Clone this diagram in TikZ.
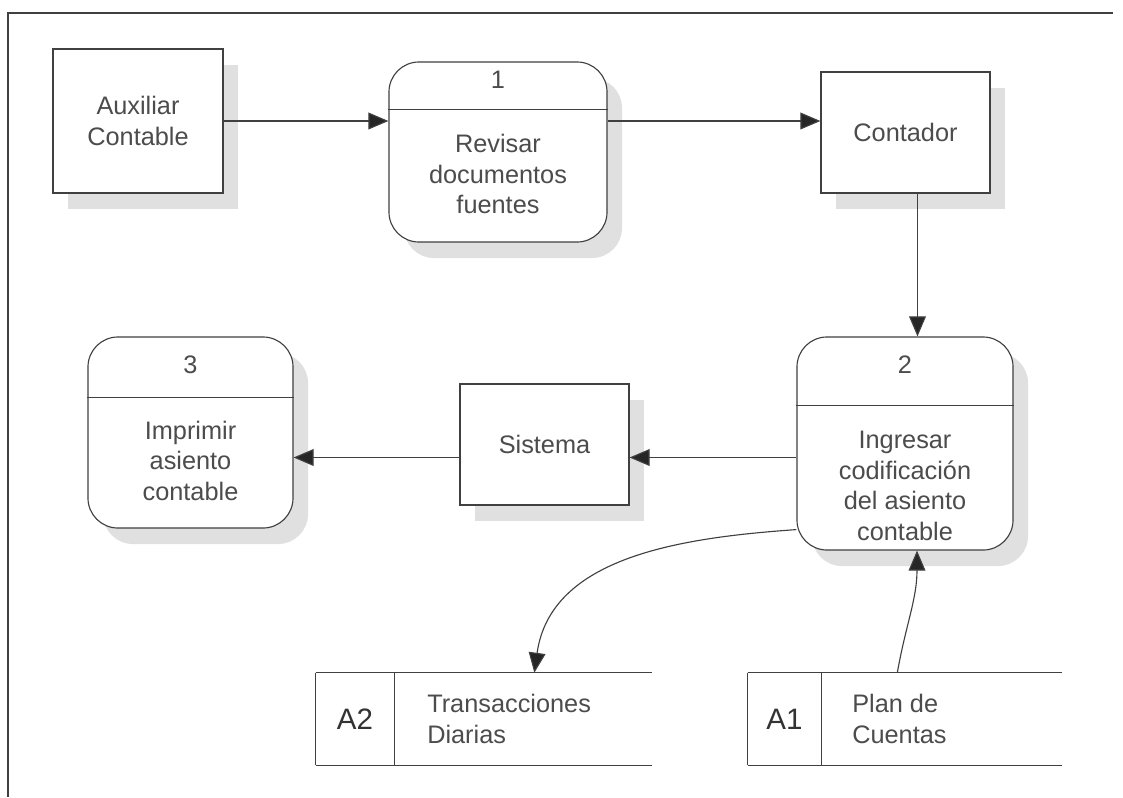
\documentclass[tikz,border=0pt]{standalone}
\usepackage{fontspec}
\setmainfont{Liberation Sans}
\usetikzlibrary{arrows.meta,shadows}

\begin{document}
\begin{tikzpicture}[x=0.025cm, y=-0.025cm,
  line/.style={draw=black!75, line width=0.8pt},
  flow/.style={line, -{Triangle[length=0.5cm, width=0.42cm, fill=black!85]}},
  shade/.style={drop shadow={shadow xshift=0.375cm, shadow yshift=-0.4cm, fill=black!12, opacity=1}},
  ent/.style={line, fill=white, shade, align=center, text=black!70,
    font=\fontsize{18}{22}\selectfont},
  proc/.style={ent, rounded corners=0.75cm},
  txt/.style={align=center, text=black!70, font=\fontsize{18}{22}\selectfont},
  storeid/.style={minimum width=1.95cm, minimum height=2.3cm, inner sep=0pt,
    text=black!80, font=\fontsize{21}{24}\selectfont}]
\useasboundingbox (0,0) rectangle (1123,797);

% frame
\draw[line] (1113,13) -- (8,13) -- (8,797);

% entities
\node[ent, minimum width=4.25cm, minimum height=3.6cm] (aux) at (138,121) {Auxiliar\\Contable};
\node[ent, minimum width=4.225cm, minimum height=3.025cm] (cont) at (905.5,132.5) {Contador};
\node[ent, minimum width=4.225cm, minimum height=3.025cm] (sis) at (544.5,444.5) {Sistema};

% processes
\node[proc, minimum width=5.45cm, minimum height=4.5cm] (p1) at (498,152) {};
\draw[line] ([yshift=-1.2cm]p1.north west) -- ([yshift=-1.2cm]p1.north east);
\node[txt] (p1n) at ([yshift=-0.45cm]p1.north) {1};
\node[txt] (p1t) at ([yshift=-0.55cm]p1.center) {Revisar\\documentos\\fuentes};

\node[proc, minimum width=5.4cm, minimum height=5.325cm] (p2) at (905,443.5) {};
\draw[line] ([yshift=-1.725cm]p2.north west) -- ([yshift=-1.725cm]p2.north east);
\node[txt] (p2n) at ([yshift=-0.7cm]p2.north) {2};
\node[txt] (p2t) at ([yshift=-1.06cm]p2.center) {Ingresar\\codificación\\del asiento\\contable};

\node[proc, minimum width=5.125cm, minimum height=4.775cm] (p3) at (190.5,432.5) {};
\draw[line] ([yshift=-1.525cm]p3.north west) -- ([yshift=-1.525cm]p3.north east);
\node[txt] (p3n) at ([yshift=-0.7cm]p3.north) {3};
\node[txt] (p3t) at ([yshift=-0.71cm]p3.center) {Imprimir\\asiento\\contable};

% data stores
\node[storeid] (a2) at (355,719) {A2};
\draw[line] (a2.north west) -- ++(336,0) (a2.south west) -- ++(336,0)
  (a2.north west) -- (a2.south west) (a2.north east) -- (a2.south east);
\node[txt, anchor=west, align=left] (a2t) at ([xshift=0.7cm]a2.east) {Transacciones\\Diarias};

\node[storeid, minimum width=1.825cm] (a1) at (784.5,719) {A1};
\draw[line] (a1.north west) -- ++(314,0) (a1.south west) -- ++(314,0)
  (a1.north west) -- (a1.south west) (a1.north east) -- (a1.south east);
\node[txt, anchor=west, align=left] (a1t) at ([xshift=0.65cm]a1.east) {Plan de\\Cuentas};

% flows
\coordinate (y2) at ([yshift=-0.35cm]p2.west);
\draw[flow] (aux.east) -- (aux.east -| p1.west);
\draw[flow] (p1.east |- aux.east) -- (cont.west |- aux.east);
\draw[flow] ([xshift=0.3cm]cont.south) -- ([xshift=0.3cm]cont.south |- p2.north);
\draw[flow] (y2) -- (y2 -| sis.east);
\draw[flow] (y2 -| sis.west) -- (y2 -| p3.east);
\draw[flow] ([yshift=0.525cm]p2.south west) to[out=184, in=82] ([xshift=3.5cm]a2.north east);
\draw[flow] ([xshift=1.9cm]a1.north east) to[out=80, in=-90] ([xshift=0.3cm]p2.south);
\end{tikzpicture}
\end{document}
